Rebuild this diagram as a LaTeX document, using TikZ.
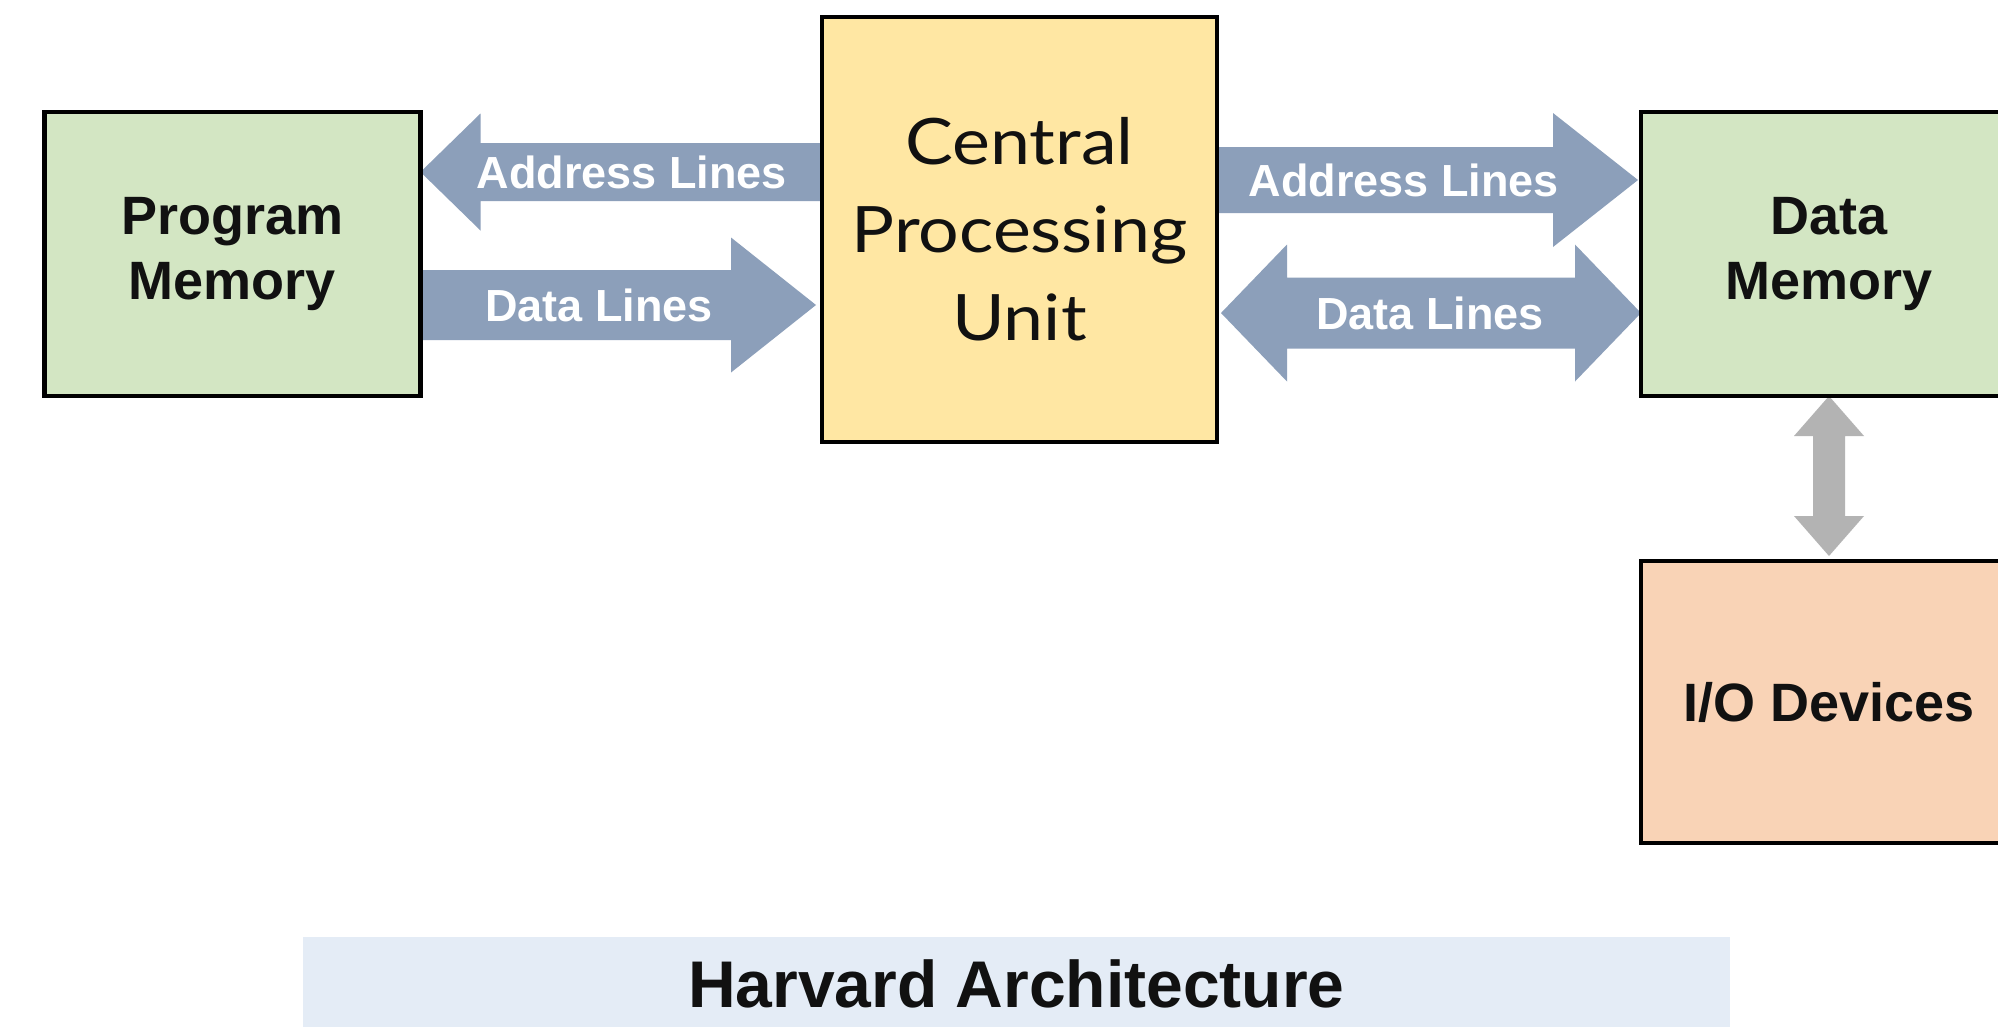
\documentclass[tikz,border=0pt]{standalone}
\usepackage{fontspec}
\setmainfont{Liberation Sans}
\newfontfamily\cpufont[FakeStretch=1.12]{Lato}
\usetikzlibrary{calc}
\definecolor{pmgreen}{HTML}{D3E6C3}
\definecolor{cpuyellow}{HTML}{FFE7A3}
\definecolor{iopeach}{HTML}{F9D3B6}
\definecolor{busblue}{HTML}{8C9FBA}
\definecolor{iogrey}{HTML}{B3B3B3}
\definecolor{titleblue}{HTML}{E4ECF6}
\definecolor{textdark}{HTML}{111111}
\pgfdeclarelayer{bg}
\pgfsetlayers{bg,main}
\tikzset{
  box/.style={draw=black, line width=4.5pt, outer sep=0pt, inner sep=0pt, align=center,
    text=textdark, font=\bfseries\fontsize{54}{65}\selectfont},
  lbl/.style={text=white, inner sep=0pt, font=\bfseries\fontsize{45}{50}\selectfont},
  titleband/.style={fill=titleblue, inner sep=0pt, text=textdark,
    font=\bfseries\fontsize{66}{72}\selectfont},
}
% #1 style, #2 tail, #3 tip, #4 shaft half width, #5 head half width, #6 head length
\newcommand\busarrow[6]{%
  \path ($(#3)!#6!(#2)$) coordinate (hb);
  \fill[#1] (#3) -- ($(hb)!#5!90:(#3)$) -- ($(hb)!#4!90:(#3)$) -- ($(#2)!#4!90:(#3)$)
    -- ($(#2)!#4!-90:(#3)$) -- ($(hb)!#4!-90:(#3)$) -- ($(hb)!#5!-90:(#3)$) -- cycle;
}
% #1 style, #2 tip one, #3 tip two, #4 shaft half width, #5 head half width, #6 head length
\newcommand\dbusarrow[6]{%
  \path ($(#2)!#6!(#3)$) coordinate (hba) ($(#3)!#6!(#2)$) coordinate (hbb);
  \fill[#1] (#2) -- ($(hba)!#5!90:(#3)$) -- ($(hba)!#4!90:(#3)$) -- ($(hbb)!#4!90:(#3)$)
    -- ($(hbb)!#5!90:(#3)$) -- (#3) -- ($(hbb)!#5!-90:(#3)$) -- ($(hbb)!#4!-90:(#3)$)
    -- ($(hba)!#4!-90:(#3)$) -- ($(hba)!#5!-90:(#3)$) -- cycle;
}
\begin{document}
\begin{tikzpicture}[x=1pt,y=-1pt]
\useasboundingbox (0,0) rectangle (1998,1026);
\begin{pgfonlayer}{bg}
  \fill[white] (0,0) rectangle (1998,1026);
\end{pgfonlayer}
\clip (0,0) rectangle (1998,1026);

% boxes
\node[box, fill=pmgreen, minimum width=376pt, minimum height=284pt] (pm) at (232.5,254) {Program\\Memory};
\node[box, fill=cpuyellow, minimum width=395pt, minimum height=425pt,
      font=\cpufont\fontsize{64}{88}\selectfont] (cpu) at (1019.5,229.5) {Central\\Processing\\Unit};
\node[box, fill=pmgreen, minimum width=376pt, minimum height=284pt] (dm) at (1829,254) {Data\\Memory};
\node[box, fill=iopeach, minimum width=376pt, minimum height=282pt] (io) at (1829,702) {I/O Devices};

% title band
\node[titleband, minimum width=1427pt, minimum height=94pt] (title) at (1016.5,984) {Harvard Architecture};

% connector end points
\coordinate (a1tip) at (pm.east |- 0,172);
\coordinate (a1tail) at (cpu.west |- 0,172);
\coordinate (d1tail) at (pm.east |- 0,305);
\coordinate (d1tip) at ($(cpu.west |- 0,305)+(-6,0)$);
\coordinate (a2tail) at (cpu.east |- 0,180);
\coordinate (a2tip) at ($(dm.west |- 0,180)+(-3,0)$);
\coordinate (d2a) at ($(cpu.east |- 0,313)+(4,0)$);
\coordinate (d2b) at (dm.west |- 0,313);
\coordinate (ioa) at (dm.south);
\coordinate (iob) at ($(io.north)+(0,-5)$);

\begin{pgfonlayer}{bg}
  \busarrow{busblue}{a1tail}{a1tip}{29pt}{58.5pt}{60pt}
  \busarrow{busblue}{d1tail}{d1tip}{35pt}{67.5pt}{85pt}
  \busarrow{busblue}{a2tail}{a2tip}{33pt}{67pt}{85pt}
  \dbusarrow{busblue}{d2a}{d2b}{35.5pt}{68.5pt}{66pt}
  \dbusarrow{iogrey}{ioa}{iob}{16pt}{35pt}{40pt}
\end{pgfonlayer}

% connector labels
\node[lbl] (la1) at (632,172) {Address Lines};
\node[lbl] (ld1) at (599,305) {Data Lines};
\node[lbl] (la2) at (1404,180) {Address Lines};
\node[lbl] (ld2) at (1430,313) {Data Lines};
\end{tikzpicture}
\end{document}
